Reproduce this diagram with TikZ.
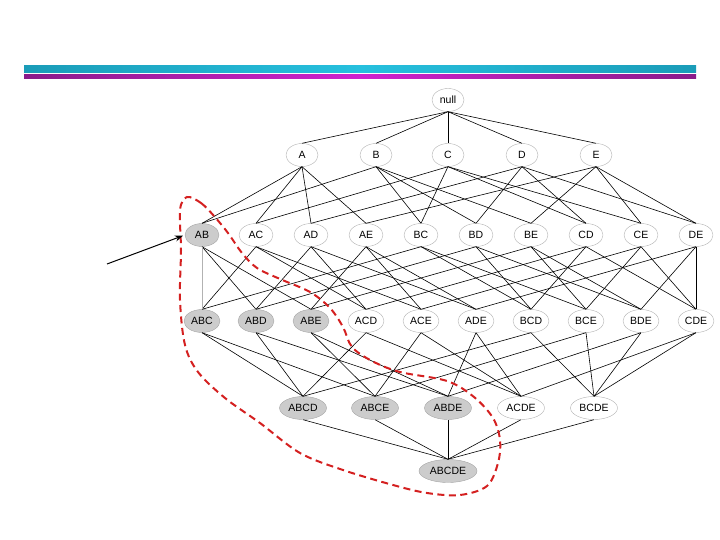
\documentclass[tikz,border=0pt]{standalone}
\usepackage{fontspec}
\setmainfont{Liberation Sans}
\usetikzlibrary{shapes.geometric,arrows.meta}
\definecolor{barcyan}{HTML}{26C0DE}
\definecolor{barcyanend}{HTML}{1A9CB8}
\definecolor{barmag}{HTML}{CE22CE}
\definecolor{barmagend}{HTML}{8A1C8A}
\definecolor{hullred}{HTML}{D42020}
\tikzset{
    itemset/.style={ellipse, draw=gray!60, line width=0.4pt, inner sep=0pt,
        minimum height=23pt, font=\fontsize{10.5}{12}\selectfont},
    open/.style={itemset, fill=white},
    kept/.style={itemset, fill=gray!40, draw=gray!70},
    link/.style={black, line width=0.6pt},
}
\begin{document}
\begin{tikzpicture}[x=1pt, y=-1pt]
\useasboundingbox (0,0) rectangle (720,540);

% ---- title bars ----
\shade[left color=barcyanend, right color=barcyanend, middle color=barcyan]
    (24,66) rectangle (696,72.5);
\shade[left color=barmagend, right color=barmagend, middle color=barmag]
    (24,75) rectangle (696,78.5);

% ---- itemsets, level by level ----
\node[open, minimum width=32pt] (null) at (448,100) {null};
\foreach \n/\x in {A/302, B/376, C/448, D/522, E/596}
    \node[open, minimum width=32pt] (\n) at (\x,155) {\n};
\foreach \n/\x/\s in {AB/202/kept, AC/256/open, AD/311/open, AE/366/open, BC/421/open,
        BD/476/open, BE/531/open, CD/586/open, CE/641/open, DE/696/open}
    \node[\s, minimum width=34pt] (\n) at (\x,235) {\n};
\foreach \n/\x/\s in {ABC/202/kept, ABD/256/kept, ABE/311/kept, ACD/366/open, ACE/421/open,
        ADE/476/open, BCD/531/open, BCE/586/open, BDE/641/open, CDE/696/open}
    \node[\s, minimum width=36pt] (\n) at (\x,321) {\n};
\foreach \n/\x/\s in {ABCD/303/kept, ABCE/375/kept, ABDE/448/kept, ACDE/521/open, BCDE/594/open}
    \node[\s, minimum width=47pt] (\n) at (\x,408) {\n};
\node[kept, minimum width=58pt] (ABCDE) at (448,471) {ABCDE};

% ---- subset links ----
\foreach \n in {A,B,C,D,E}
    \draw[link] (null.south) -- (\n.north);
\foreach \n/\ps in {AB/{A,B}, AC/{A,C}, AD/{A,D}, AE/{A,E}, BC/{B,C},
        BD/{B,D}, BE/{B,E}, CD/{C,D}, CE/{C,E}, DE/{D,E}}
    \foreach \p in \ps
        \draw[link] (\p.south) -- (\n.north);
\foreach \n/\ps in {ABD/{AB,AD,BD}, ABE/{AB,AE,BE}, ACD/{AC,AD,CD},
        ACE/{AC,AE,CE}, ADE/{AD,AE,DE}, BCD/{BC,BD,CD}, BCE/{BC,BE,CE},
        BDE/{BD,BE,DE}, CDE/{CD,CE,DE}, ABC/{AC,BC}}
    \foreach \p in \ps
        \draw[link] (\p.south) -- (\n.north);
\draw[gray!60, line width=0.6pt] (AB.south) -- (ABC.north);
\foreach \n/\ps in {ABCD/{ABC,ABD,ACD,BCD}, ABCE/{ABC,ABE,ACE,BCE},
        ABDE/{ABD,ABE,ADE,BDE}, ACDE/{ACD,ACE,ADE,CDE}, BCDE/{BCD,BCE,BDE,CDE}}
    \foreach \p in \ps
        \draw[link] (\p.south) -- (\n.north);
\foreach \p in {ABCD,ABCE,ABDE,ACDE,BCDE}
    \draw[link] (\p.south) -- (ABCDE.north);

% ---- border around supersets of AB ----
\draw[hullred, line width=2pt, dash pattern=on 7pt off 4.5pt, tension=0.55]
    plot[smooth cycle] coordinates {
    (187,197) (201,203) (214,216) (228,233) (242,253) (257,268) (280,279)
    (310,292) (330,308) (343,327) (352,347) (372,361) (400,372) (447,381)
    (474,397) (493,418) (500,440) (498,463) (487,486) (460,495) (427,493)
    (393,485) (343,470) (300,453) (260,423) (225,398) (198,372) (185,345)
    (180,300) (181,250) (180,210)};

% ---- pointer ----
\coordinate (tail) at (107,264);
\draw[-{Stealth[length=8pt,width=6pt]}, line width=1pt, shorten >=2pt] (tail) -- (AB.west);

\end{tikzpicture}
\end{document}
